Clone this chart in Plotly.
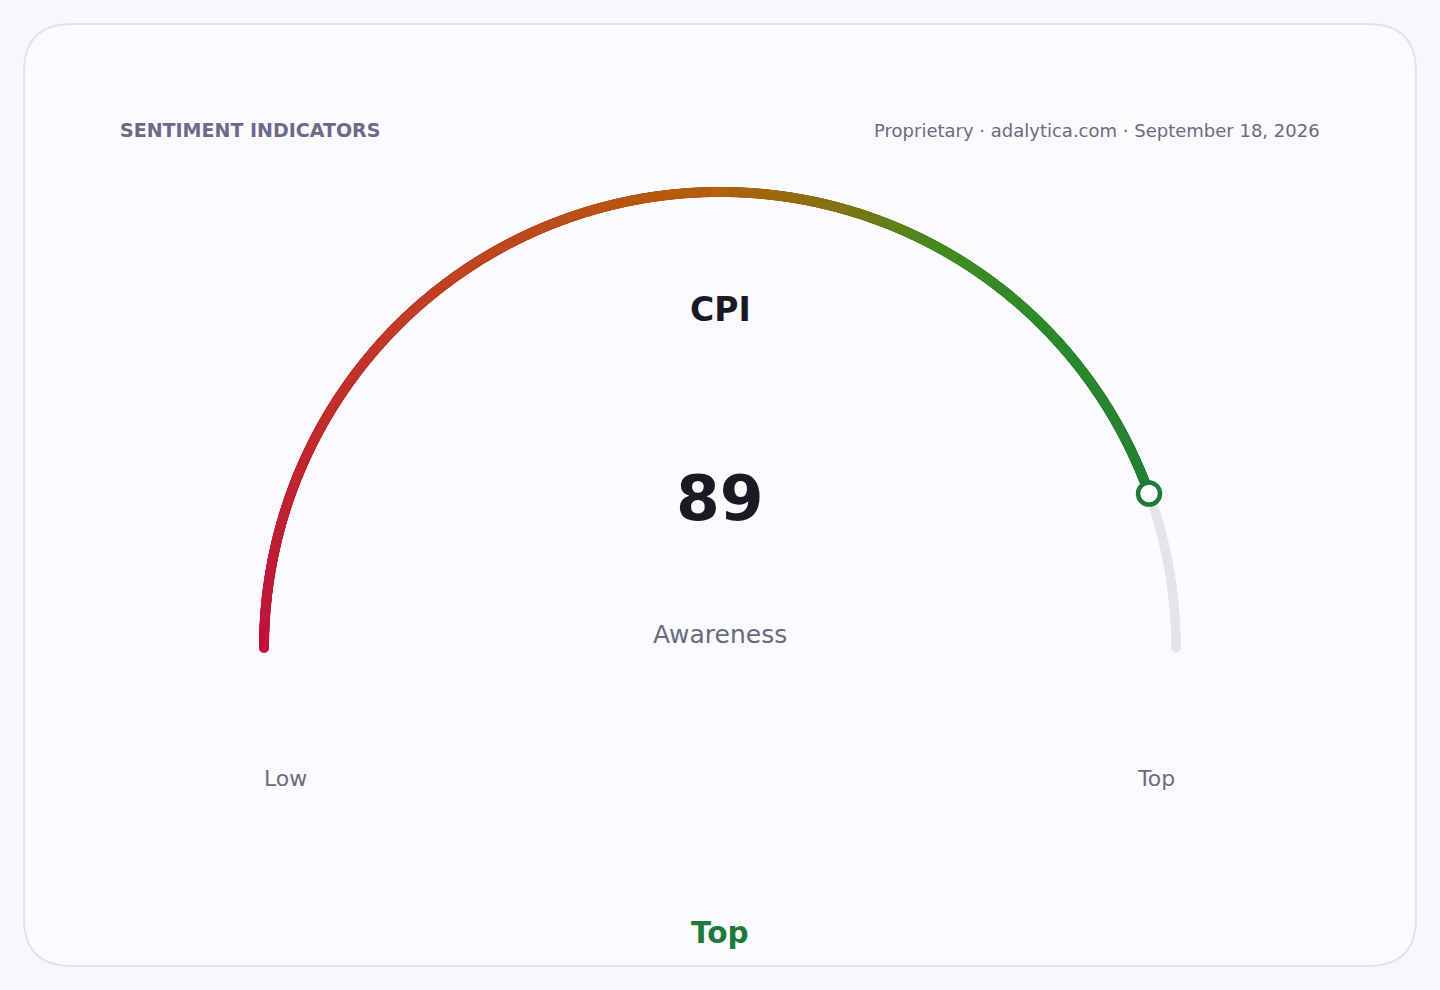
import numpy as np
import plotly.graph_objects as go

# ---- data ----
title_text = "SENTIMENT INDICATORS"
source_text = "Proprietary · adalytica.com · September 18, 2026"
metric_name = "CPI"
metric_value = 89
metric_min = 0
metric_max = 100
metric_label = "Awareness"
range_labels = ["Low", "Top"]
status_label = "Top"

# ---- geometry / style ----
W, H = 1440, 990
CX, CY, R = 720, 648, 456
FONT = "DejaVu Sans"
GREEN = "#1f7a3a"

stop_pos = [0.0, 0.25, 0.5, 0.58, 0.66, 0.75, 1.0]
stop_col = ["#be123c", "#c23a28", "#b45f0c", "#857212", "#458b22", "#2c8a2c", "#1f7a3a"]


def hex2rgb(h):
    h = h.lstrip("#")
    return np.array([int(h[i:i + 2], 16) for i in (0, 2, 4)], dtype=float)


stop_rgb = np.array([hex2rgb(c) for c in stop_col])


def color_at(t):
    r = np.interp(t, stop_pos, stop_rgb[:, 0])
    g = np.interp(t, stop_pos, stop_rgb[:, 1])
    b = np.interp(t, stop_pos, stop_rgb[:, 2])
    return "rgb(%d,%d,%d)" % (round(r), round(g), round(b))


frac = (metric_value - metric_min) / (metric_max - metric_min)


def arc_xy(t):
    ang = np.pi * (1 - t)
    return CX + R * np.cos(ang), CY - R * np.sin(ang)


fig = go.Figure()

# grey track from value to max
tt = np.linspace(frac, 1.0, 400)
tx, ty = arc_xy(tt)
fig.add_trace(go.Scatter(x=tx, y=ty, mode="markers",
                         marker=dict(size=9, color="#e4e4ea", line=dict(width=0)),
                         hoverinfo="skip", showlegend=False))

# gradient value arc
tv = np.linspace(0, frac, 1600)
vx, vy = arc_xy(tv)
fig.add_trace(go.Scatter(x=vx, y=vy, mode="markers",
                         marker=dict(size=10, color=[color_at(t) for t in tv],
                                     line=dict(width=0)),
                         hoverinfo="skip", showlegend=False))

# value marker
mx, my = arc_xy(np.array([frac]))
fig.add_trace(go.Scatter(x=mx, y=my, mode="markers",
                         marker=dict(size=22, color="#ffffff", line=dict(width=4.5, color=GREEN)),
                         hoverinfo="skip", showlegend=False))

# card shape
x0, y0, x1, y1, rr = 24, 24, 1416, 966, 48
card_path = (f"M {x0+rr},{y0} L {x1-rr},{y0} Q {x1},{y0} {x1},{y0+rr} "
             f"L {x1},{y1-rr} Q {x1},{y1} {x1-rr},{y1} L {x0+rr},{y1} "
             f"Q {x0},{y1} {x0},{y1-rr} L {x0},{y0+rr} Q {x0},{y0} {x0+rr},{y0} Z")

lx0, _ = arc_xy(np.array([0.0]))
lx1, _ = arc_xy(np.array([1.0]))

annotations = [
    dict(x=118, y=130, text=f"<b>{title_text}</b>", xanchor="left", yanchor="middle",
         font=dict(family=FONT, size=19, color="#6b6a8a")),
    dict(x=1322, y=130, text=source_text, xanchor="right", yanchor="middle",
         font=dict(family=FONT, size=18, color="#6b6b80")),
    dict(x=CX, y=309, text=f"<b>{metric_name}</b>", xanchor="center", yanchor="middle",
         font=dict(family=FONT, size=33, color="#1a1a24")),
    dict(x=CX, y=498, text=f"<b>{metric_value}</b>", xanchor="center", yanchor="middle",
         font=dict(family=FONT, size=63, color="#1a1a24")),
    dict(x=CX, y=634, text=metric_label, xanchor="center", yanchor="middle",
         font=dict(family=FONT, size=25, color="#6b6b80")),
    dict(x=float(lx0[0]) - 2, y=778, text=range_labels[0], xanchor="left", yanchor="middle",
         font=dict(family=FONT, size=22, color="#6b6b80")),
    dict(x=float(lx1[0]) + 1, y=778, text=range_labels[1], xanchor="right", yanchor="middle",
         font=dict(family=FONT, size=22, color="#6b6b80")),
    dict(x=CX, y=933, text=f"<b>{status_label}</b>", xanchor="center", yanchor="middle",
         font=dict(family=FONT, size=29.5, color=GREEN)),
]
for a in annotations:
    a.update(xref="x", yref="y", showarrow=False)

fig.update_layout(
    width=W, height=H, autosize=False,
    margin=dict(l=0, r=0, t=0, b=0, pad=0),
    paper_bgcolor="#f8f8fc", plot_bgcolor="rgba(0,0,0,0)",
    xaxis=dict(range=[0, W], visible=False, fixedrange=True),
    yaxis=dict(range=[H, 0], visible=False, fixedrange=True),
    shapes=[dict(type="path", path=card_path, xref="x", yref="y", layer="below",
                 fillcolor="#fafaff", line=dict(color="#e2e2ee", width=2))],
    annotations=annotations,
    showlegend=False,
)

fig.write_html("out.html", config={"displayModeBar": False},
               post_script="document.body.style.margin='0';document.body.style.overflow='hidden';")
